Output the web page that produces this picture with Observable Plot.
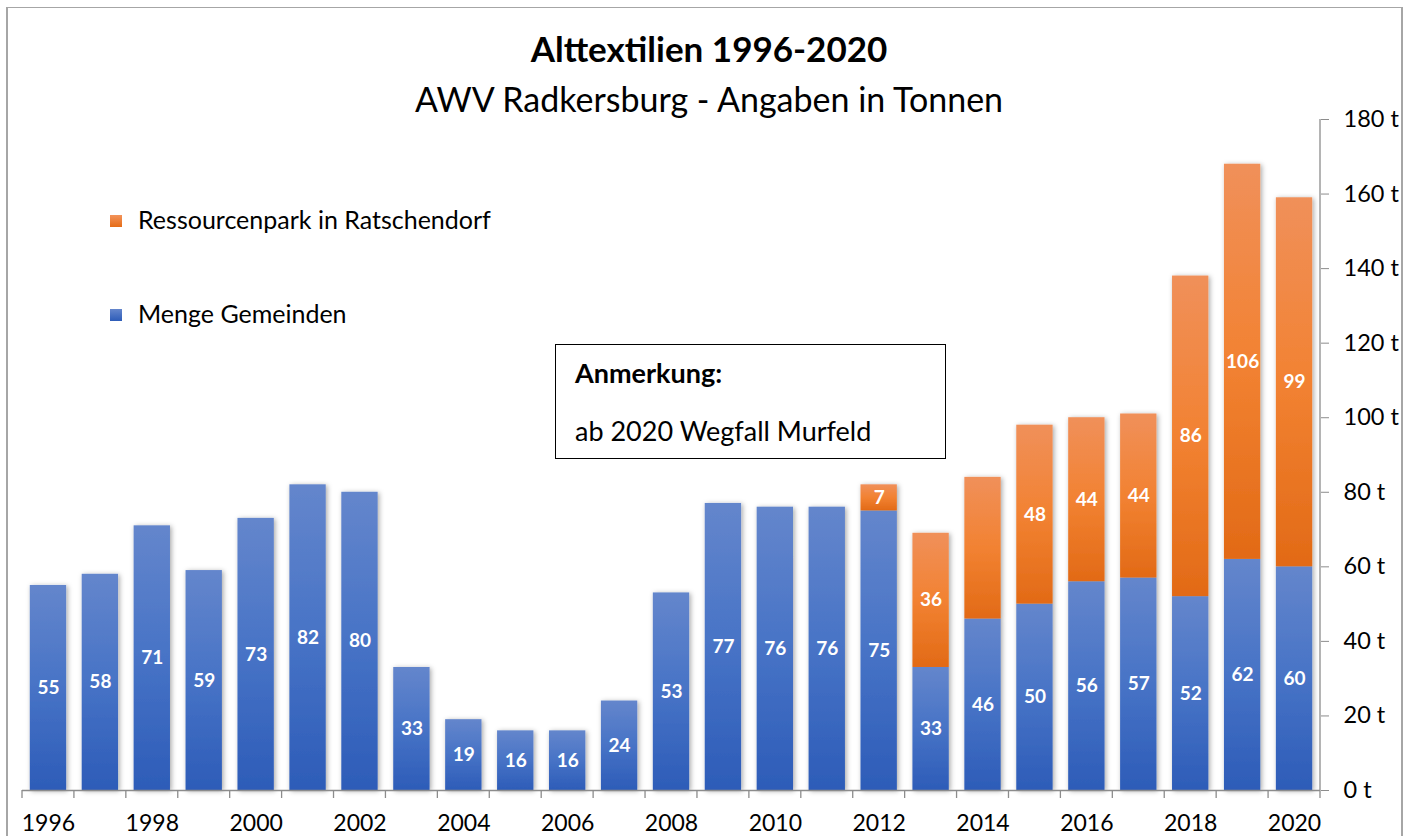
<!DOCTYPE html>
<html><head><meta charset="utf-8">
<script src="https://cdn.jsdelivr.net/npm/d3@7"></script>
<script src="https://cdn.jsdelivr.net/npm/@observablehq/plot@0.6"></script>
<style>
body{margin:0;background:#fff;font-family:Lato,"Noto Sans",sans-serif;color:#000;}
#wrap{position:relative;width:1418px;height:836px;overflow:hidden;background:#fff;}
#chart{position:absolute;left:0;top:0;}
.frame{position:absolute;left:6px;top:7px;width:1397px;height:900px;box-sizing:border-box;border-left:2px solid #a6a6a6;border-top:1.5px solid #a6a6a6;border-right:2px solid #a6a6a6;pointer-events:none;}
.t{position:absolute;white-space:nowrap;line-height:1;}
.title{left:0;width:1418px;text-align:center;top:31px;font-size:35px;font-weight:700;}
.subtitle{left:0;width:1418px;text-align:center;top:82px;font-size:34px;}
.leg{left:138px;font-size:25px;}
.sw{position:absolute;left:110px;width:12px;height:12px;}
.note{position:absolute;left:555px;top:344px;width:391px;height:115px;box-sizing:border-box;border:1.3px solid #000;background:#fff;}
.nt{font-size:27px;left:575px;}
</style></head><body>
<div id="wrap">
  <div id="chart"></div>
  <div class="frame"></div>
  <div class="t title">Alttextilien 1996-2020</div>
  <div class="t subtitle">AWV Radkersburg - Angaben in Tonnen</div>
  <div class="sw" style="top:215px;background:linear-gradient(#f3935a,#e56c17);"></div>
  <div class="t leg" style="top:207px;">Ressourcenpark in Ratschendorf</div>
  <div class="sw" style="top:309px;background:linear-gradient(#6486cc,#2d5cb8);"></div>
  <div class="t leg" style="top:301px;">Menge Gemeinden</div>
  <div class="note"></div>
  <div class="t nt" style="top:359px;font-weight:700;">Anmerkung:</div>
  <div class="t nt" style="top:417px;">ab 2020 Wegfall Murfeld</div>
</div>
<script>
// ---- data ----
const years = [1996,1997,1998,1999,2000,2001,2002,2003,2004,2005,2006,2007,2008,2009,2010,2011,2012,2013,2014,2015,2016,2017,2018,2019,2020];
const mengeGemeinden = [55,58,71,59,73,82,80,33,19,16,16,24,53,77,76,76,75,33,46,50,56,57,52,62,60];
const ressourcenpark = [0,0,0,0,0,0,0,0,0,0,0,0,0,0,0,0,7,36,38,48,44,44,86,106,99];
const unlabeledRessourcenparkYears = [2014];
const yTicks = [0,20,40,60,80,100,120,140,160,180];
const seriesNames = ["Menge Gemeinden","Ressourcenpark in Ratschendorf"];
const seriesFill = {"Menge Gemeinden":"url(#gBlue)","Ressourcenpark in Ratschendorf":"url(#gOrange)"};

const rows = [];
years.forEach((year,i)=>{
  rows.push({year, series:seriesNames[0], value:mengeGemeinden[i], base:0});
  if (ressourcenpark[i] > 0) rows.push({year, series:seriesNames[1], value:ressourcenpark[i], base:mengeGemeinden[i]});
});
const labelRows = rows.filter(d => !(d.series===seriesNames[1] && unlabeledRessourcenparkYears.includes(d.year)));

const defsMark = () => {
  const defs = d3.create("svg:defs");
  const mk = (id, stops) => {
    const g = defs.append("linearGradient").attr("id",id).attr("x1",0).attr("y1",0).attr("x2",0).attr("y2",1);
    stops.forEach(([o,c]) => g.append("stop").attr("offset",o).attr("stop-color",c));
  };
  mk("gBlue", [[0,"#6486cc"],[0.5,"#4773c6"],[1,"#2d5cb8"]]);
  mk("gOrange", [[0,"#f0905a"],[0.5,"#f28232"],[1,"#e26a16"]]);
  const f = defs.append("filter").attr("id","barShadow").attr("x","-5%").attr("y","-5%").attr("width","110%").attr("height","110%");
  f.append("feDropShadow").attr("dx",1.5).attr("dy",1).attr("stdDeviation",2.5).attr("flood-color","#000").attr("flood-opacity",0.35);
  return defs.node();
};

const gridMark = (index, scales, values, dims) => {
  const {x, y} = scales;
  const g = d3.create("svg:g").attr("stroke","#8c8c8c").attr("stroke-width",1.3);
  const bw = x.bandwidth();
  const step = x(years[1]) - x(years[0]);
  const gap = (step - bw) / 2;
  const bounds = years.map(yr => x(yr) - gap).concat([x(years[years.length-1]) + bw + gap]);
  const y0 = y(0);
  g.selectAll("line.b").data(bounds).join("line").attr("class","b")
    .attr("x1",d=>d).attr("x2",d=>d).attr("y1",y0).attr("y2",y0+8);
  const xr = dims.width - dims.marginRight;
  g.append("line").attr("x1",xr).attr("x2",xr).attr("y1",y(yTicks[yTicks.length-1])).attr("y2",y0);
  return g.node();
};

const chart = Plot.plot({
  width:1418, height:836,
  marginLeft:22, marginRight:98, marginTop:119, marginBottom:46,
  style:{fontFamily:"Lato, 'Noto Sans', sans-serif", background:"transparent", color:"#000"},
  x:{type:"band", domain:years, paddingInner:0.3, paddingOuter:0.15, round:false, label:null},
  y:{domain:[0,180], label:null},
  color:{type:"identity"},
  marks:[
    defsMark,
    Plot.barY(rows, {x:"year", y1:"base", y2:d=>d.base+d.value, fill:d=>seriesFill[d.series]}),
    Plot.text(labelRows, {x:"year", y:d=>d.base+d.value/2, text:d=>String(d.value), fill:"white", fontWeight:"bold", fontSize:19}),
    Plot.ruleY([0], {stroke:"#8c8c8c", strokeWidth:1.3}),
    gridMark,
    Plot.axisY({anchor:"right", ticks:yTicks, tickFormat:d=>d+" t", tickSize:8, tickPadding:15, fontSize:23.5, stroke:"#8c8c8c", fill:"#000"}),
    Plot.axisX({anchor:"bottom", tickSize:0, tickPadding:24, tickFormat:d=>d%2===0?String(d):"", fontSize:23, fill:"#000"})
  ]
});
const barG = chart.querySelector('g[aria-label="bar"]');
if (barG) barG.setAttribute("filter","url(#barShadow)");
document.getElementById("chart").appendChild(chart);
</script>
</body></html>
